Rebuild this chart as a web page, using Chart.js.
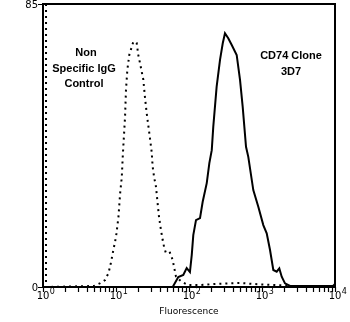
<!DOCTYPE html>
<html>
<head>
<meta charset="utf-8">
<script src="https://cdn.jsdelivr.net/npm/chart.js@4/dist/chart.umd.min.js"></script>
<style>
  html, body { margin: 0; padding: 0; background: #fff; }
  #wrap { width: 350px; height: 322px; }
</style>
</head>
<body>
<div id="wrap"><canvas id="histChart" width="350" height="322"></canvas></div>
<script>
// Histogram data (fluorescence channel vs. event count)
const controlFluor = [1.1, 1.1, 5.0, 6.0, 7.1, 7.9, 8.5, 9.2, 10.0, 10.8, 11.4, 12.0, 12.4, 13.3, 13.7, 14.3, 15.2, 17.3, 19.2, 20.2, 21.3, 23.7, 24.9, 26.3, 28.6, 30.8, 31.8, 33.2, 35.3, 36.8, 38.8, 41.3, 43.6, 45.5, 48.4, 54.9, 59.8, 62.3, 66.4, 79, 97, 141, 266, 500, 935, 2400, 3300];
const controlCount = [85, 0, 0.3, 1.1, 2.1, 4.2, 7.2, 11.1, 15.0, 21.0, 28.2, 33.0, 39.6, 51.1, 59.2, 65.2, 69.7, 73.7, 73.3, 69.7, 67.3, 62.2, 57.1, 52.3, 46.2, 40.6, 36.1, 33.1, 30.1, 26.1, 21.1, 17.1, 14.1, 12.1, 10.1, 10.3, 8.1, 6.1, 3.1, 1.6, 0.6, 0.6, 1.0, 1.2, 0.8, 0.4, 0];

const cd74Fluor = [59.8, 71.3, 83.5, 93, 103, 109, 114.5, 124.7, 141.5, 154, 175, 190, 205, 215, 239, 266, 290, 311, 345, 385, 450, 500, 544, 604, 649, 760, 890, 1042, 1160, 1288, 1429, 1590, 1726, 1862, 2065, 2420, 4100, 9400, 10000];
const cd74Count = [0, 3.0, 3.6, 5.7, 4.5, 9.6, 15.6, 20.1, 20.7, 25.6, 31.2, 37.2, 41.1, 48.1, 60.1, 68.2, 73.2, 76.2, 74.7, 72.7, 69.7, 62.2, 54.1, 42.1, 39.1, 29.1, 24.1, 18.6, 16.1, 11.1, 5.1, 4.6, 5.6, 3.1, 1.1, 0.3, 0.3, 0.3, 0.9];

const xDecades = [1, 10, 100, 1000, 10000];
const xDecadeExp = ['0', '1', '2', '3', '4'];
const yTicks = [0, 85];
const axisTitle = 'Fluorescence';

const toPoints = (xs, ys) => xs.map((x, i) => ({ x: x, y: ys[i] }));

// Box frame, ticks, superscript labels and annotations
const frame = {
    id: 'frame',
    afterDraw(chart) {
        const ctx = chart.ctx;
        const a = chart.chartArea;
        const xs = chart.scales.x;
        const ys = chart.scales.y;
        ctx.save();
        ctx.strokeStyle = '#000';
        ctx.fillStyle = '#000';
        ctx.lineWidth = 2;
        ctx.strokeRect(a.left, a.top, a.right - a.left, a.bottom - a.top);

        // x ticks: decades plus 2..9 minors
        ctx.lineWidth = 1.2;
        ctx.beginPath();
        for (let d = 0; d < xDecades.length; d++) {
            const base = xDecades[d];
            const steps = d < xDecades.length - 1 ? 9 : 1;
            for (let m = 1; m <= steps; m++) {
                const px = Math.round(xs.getPixelForValue(base * m)) + 0.5;
                ctx.moveTo(px, a.bottom);
                ctx.lineTo(px, a.bottom + 5);
            }
        }
        // y ticks
        yTicks.forEach(v => {
            const py = Math.round(ys.getPixelForValue(v)) + 0.5;
            ctx.moveTo(a.left - 5, py);
            ctx.lineTo(a.left, py);
        });
        ctx.stroke();

        // y labels
        ctx.font = '10px "DejaVu Sans"';
        ctx.textAlign = 'right';
        ctx.textBaseline = 'middle';
        yTicks.forEach(v => {
            ctx.fillText(String(v), a.left - 5, ys.getPixelForValue(v) + 1);
        });

        // x labels 10^n
        xDecades.forEach((v, i) => {
            const px = xs.getPixelForValue(v);
            ctx.font = '10px "DejaVu Sans"';
            ctx.textAlign = 'center';
            ctx.textBaseline = 'alphabetic';
            ctx.fillText('10', px, a.bottom + 12);
            const w = ctx.measureText('10').width;
            ctx.font = '8px "DejaVu Sans"';
            ctx.textAlign = 'left';
            ctx.fillText(xDecadeExp[i], px + w / 2 + 0.5, a.bottom + 7);
        });

        ctx.font = '9px "DejaVu Sans"';
        ctx.textAlign = 'center';
        ctx.textBaseline = 'middle';
        ctx.fillText(axisTitle, (a.left + a.right) / 2, a.bottom + 25);

        // series annotations
        ctx.font = 'bold 11px "Liberation Sans"';
        ctx.fillText('Non', 86, 53);
        ctx.fillText('Specific IgG', 84, 69);
        ctx.fillText('Control', 84, 84);
        ctx.fillText('CD74 Clone', 291, 56);
        ctx.fillText('3D7', 291, 72);
        ctx.restore();
    }
};

const ctx = document.getElementById('histChart').getContext('2d');
new Chart(ctx, {
    type: 'line',
    data: {
        datasets: [{
            label: 'Non Specific IgG Control',
            data: toPoints(controlFluor, controlCount),
            borderColor: '#000',
            borderWidth: 2,
            borderDash: [2, 4],
            borderCapStyle: 'butt',
            pointRadius: 0,
            tension: 0,
            fill: false
        }, {
            label: 'CD74 Clone 3D7',
            data: toPoints(cd74Fluor, cd74Count),
            borderColor: '#000',
            borderWidth: 2,
            pointRadius: 0,
            tension: 0,
            fill: false
        }]
    },
    options: {
        responsive: false,
        animation: false,
        layout: { padding: { left: 43, right: 15, top: 4, bottom: 35 } },
        plugins: { legend: { display: false }, tooltip: { enabled: false } },
        scales: {
            x: { type: 'logarithmic', min: 1, max: 10000, display: false },
            y: { type: 'linear', min: 0, max: 85, display: false }
        }
    },
    plugins: [frame]
});
</script>
</body>
</html>
